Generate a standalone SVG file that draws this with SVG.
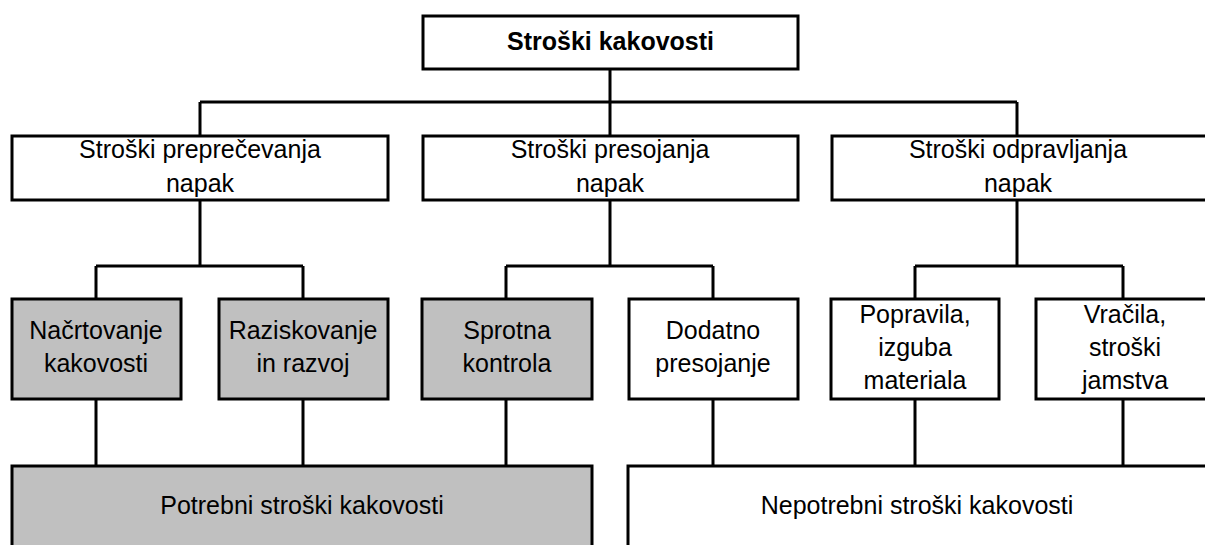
<svg xmlns="http://www.w3.org/2000/svg" width="1205" height="545" viewBox="0 0 1205 545">
  <style>
    .box { fill: #ffffff; stroke: #000000; stroke-width: 3; }
    .grey { fill: #c0c0c0; }
    .lbl { font-family: "Liberation Sans", Arial, sans-serif; font-size: 25px; fill: #000000; text-anchor: middle; }
    .title { font-weight: bold; }
    .conn { fill: none; stroke: #000000; stroke-width: 3; }
  </style>

  <!-- connectors -->
  <g id="connectors">
    <!-- root to first level -->
    <path class="conn" d="M610,69 V136 M200,102 H1017 M200,102 V136 M1017,102 V136"/>
    <!-- first level to second level -->
    <path class="conn" d="M200,200 V266 M96,266 H303 M96,266 V299 M303,266 V299"/>
    <path class="conn" d="M610,200 V266 M506,266 H713 M506,266 V299 M713,266 V299"/>
    <path class="conn" d="M1017,200 V266 M915,266 H1123 M915,266 V299 M1123,266 V299"/>
    <!-- second level to summary boxes -->
    <path class="conn" d="M96,399 V466 M303,399 V466 M506,399 V466 M713,399 V466 M915,399 V466 M1123,399 V466"/>
  </g>

  <!-- root -->
  <g id="root">
    <rect class="box" x="423" y="16" width="375" height="53"/>
    <text class="lbl title" x="610.5" y="50">Stroški kakovosti</text>
  </g>

  <!-- first level -->
  <g id="prevention">
    <rect class="box" x="12" y="136" width="376" height="64"/>
    <text class="lbl" x="200" y="158">Stroški preprečevanja</text>
    <text class="lbl" x="200" y="191.5">napak</text>
  </g>
  <g id="appraisal">
    <rect class="box" x="423" y="136" width="375" height="64"/>
    <text class="lbl" x="610" y="158">Stroški presojanja</text>
    <text class="lbl" x="610" y="191.5">napak</text>
  </g>
  <g id="failure">
    <rect class="box" x="832" y="136" width="380" height="64"/>
    <text class="lbl" x="1018" y="158">Stroški odpravljanja</text>
    <text class="lbl" x="1018" y="191.5">napak</text>
  </g>

  <!-- second level -->
  <g id="planning">
    <rect class="box grey" x="12" y="299" width="169" height="100"/>
    <text class="lbl" x="96" y="339">Načrtovanje</text>
    <text class="lbl" x="96" y="372">kakovosti</text>
  </g>
  <g id="research">
    <rect class="box grey" x="219" y="299" width="169" height="100"/>
    <text class="lbl" x="303" y="339">Raziskovanje</text>
    <text class="lbl" x="303" y="372">in razvoj</text>
  </g>
  <g id="inprocess">
    <rect class="box grey" x="422" y="299" width="170" height="100"/>
    <text class="lbl" x="507" y="339">Sprotna</text>
    <text class="lbl" x="507" y="372">kontrola</text>
  </g>
  <g id="extra-appraisal">
    <rect class="box" x="629" y="299" width="169" height="100"/>
    <text class="lbl" x="713" y="339">Dodatno</text>
    <text class="lbl" x="713" y="372">presojanje</text>
  </g>
  <g id="repairs">
    <rect class="box" x="831" y="299" width="168" height="100"/>
    <text class="lbl" x="915" y="323">Popravila,</text>
    <text class="lbl" x="915" y="356">izguba</text>
    <text class="lbl" x="915" y="389">materiala</text>
  </g>
  <g id="returns">
    <rect class="box" x="1036" y="299" width="176" height="100"/>
    <text class="lbl" x="1125" y="323">Vračila,</text>
    <text class="lbl" x="1125" y="356">stroški</text>
    <text class="lbl" x="1125" y="389">jamstva</text>
  </g>

  <!-- summary boxes -->
  <g id="necessary">
    <rect class="box grey" x="12" y="466" width="580" height="90"/>
    <text class="lbl" x="302" y="514">Potrebni stroški kakovosti</text>
  </g>
  <g id="unnecessary">
    <rect class="box" x="628" y="466" width="584" height="90"/>
    <text class="lbl" x="917" y="514">Nepotrebni stroški kakovosti</text>
  </g>
</svg>
